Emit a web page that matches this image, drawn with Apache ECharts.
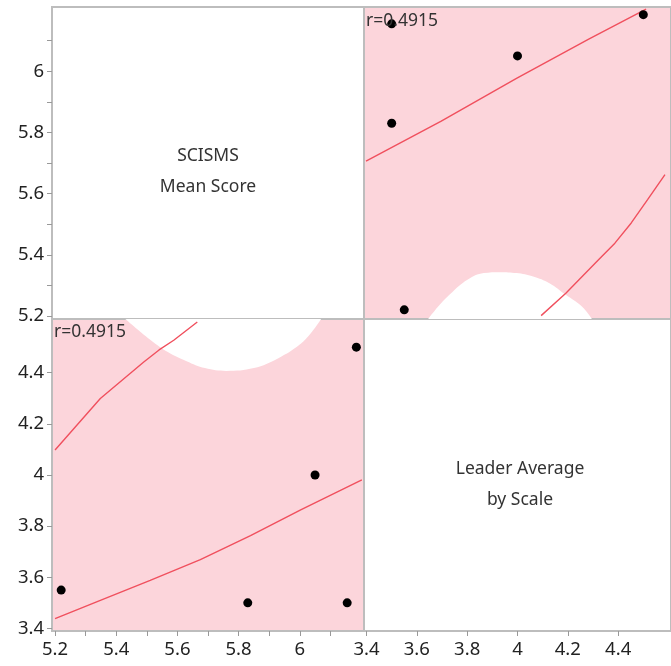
<!DOCTYPE html>
<html>
<head>
<meta charset="utf-8">
<script src="https://cdn.jsdelivr.net/npm/echarts@6/dist/echarts.min.js"></script>
<style>
  html, body { margin: 0; padding: 0; background: #fff; }
  #chart { width: 671px; height: 666px; }
</style>
</head>
<body>
<div id="chart"></div>
<script>
// scatterplot matrix: SCISMS Mean Score vs Leader Average by Scale
var scisms = [5.22, 5.83, 6.05, 6.155, 6.185];
var leader = [3.55, 3.5, 4.0, 3.5, 4.5];
var rText = 'r=0.4915';
var scismsName = 'SCISMS\nMean Score';
var leaderName = 'Leader Average\nby Scale';

var scismsLabels = [5.2, 5.4, 5.6, 5.8, 6];
var scismsTicks = [5.2, 5.3, 5.4, 5.5, 5.6, 5.7, 5.8, 5.9, 6, 6.1];
var leaderLabels = [3.4, 3.6, 3.8, 4, 4.2, 4.4];

// upper right panel, [leader, scisms]
var fitTR = [[3.398, 5.706], [3.697, 5.837], [3.996, 5.977], [4.283, 6.105], [4.511, 6.203]];
var ellipseTR = [[4.094, 5.201], [4.192, 5.274], [4.257, 5.329], [4.322, 5.384], [4.387, 5.438],
  [4.452, 5.504], [4.517, 5.580], [4.586, 5.662]];
var holeTR = [[3.645, 5.19], [3.684, 5.230], [3.736, 5.274], [3.801, 5.318], [3.866, 5.340],
  [3.931, 5.343], [3.996, 5.340], [4.062, 5.329], [4.127, 5.307], [4.192, 5.269],
  [4.257, 5.230], [4.296, 5.19]];

// lower left panel, [scisms, leader]
var fitBL = [[5.2, 3.438], [5.348, 3.510], [5.511, 3.588], [5.675, 3.669], [5.839, 3.763],
  [6.003, 3.864], [6.203, 3.981]];
var ellipseBL = [[5.2, 4.098], [5.348, 4.299], [5.49, 4.442], [5.54, 4.489], [5.588, 4.527], [5.665, 4.598]];
var holeBL = [[5.43, 4.61], [5.51, 4.53], [5.57, 4.48], [5.63, 4.445], [5.69, 4.418], [5.76, 4.407],
  [5.85, 4.418], [5.93, 4.457], [6.0, 4.51], [6.04, 4.56], [6.07, 4.61]];

var FONT = '"Noto Sans", "Open Sans", sans-serif';
var PINK = '#fcd5db';
var RED = '#f0505e';
var BORDER = '#bdbdbd';

function grid(left, top, bg) {
  return { left: left, top: top, width: 312, height: 312, show: true,
    borderColor: BORDER, borderWidth: 2, backgroundColor: bg };
}

function axis(gridIndex, min, max, opts) {
  var a = {
    type: 'value', gridIndex: gridIndex, min: min, max: max,
    axisLine: { show: false }, splitLine: { show: false },
    axisTick: { show: false }, axisLabel: { show: false }
  };
  if (opts) {
    a.axisTick = { show: true, length: 5, customValues: opts.ticks, lineStyle: { color: '#999', width: 1 } };
    a.axisLabel = { show: true, customValues: opts.labels, fontSize: 18.5, color: '#222',
      fontFamily: FONT, margin: opts.margin };
  }
  return a;
}

function curve(xi, data) {
  return { type: 'line', xAxisIndex: xi, yAxisIndex: xi, data: data, smooth: false,
    showSymbol: false, silent: true, z: 3, lineStyle: { color: RED, width: 1.4 } };
}

function hole(xi, data, origin) {
  return { type: 'line', xAxisIndex: xi, yAxisIndex: xi, data: data, smooth: 0.4,
    showSymbol: false, silent: true, z: 2, lineStyle: { width: 0 },
    areaStyle: { color: '#fff', opacity: 1, origin: origin } };
}

var ptsTR = leader.map(function (l, i) { return [l, scisms[i]]; });
var ptsBL = scisms.map(function (s, i) { return [s, leader[i]]; });

var chart = echarts.init(document.getElementById('chart'));
chart.setOption({
  animation: false,
  grid: [grid(52, 7, '#fff'), grid(364, 7, PINK), grid(52, 319, PINK), grid(364, 319, '#fff')],
  xAxis: [
    axis(0, 5.19, 6.21),
    axis(1, 3.39, 4.61),
    axis(2, 5.19, 6.21, { ticks: scismsTicks, labels: scismsLabels, margin: 9 }),
    axis(3, 3.39, 4.61, { ticks: leaderLabels, labels: leaderLabels, margin: 9 })
  ],
  yAxis: [
    axis(0, 5.19, 6.21, { ticks: scismsTicks, labels: scismsLabels, margin: 8 }),
    axis(1, 5.19, 6.21),
    axis(2, 3.39, 4.61, { ticks: leaderLabels, labels: leaderLabels, margin: 8 }),
    axis(3, 3.39, 4.61)
  ],
  series: [
    hole(1, holeTR, 'start'),
    curve(1, fitTR),
    curve(1, ellipseTR),
    { type: 'scatter', xAxisIndex: 1, yAxisIndex: 1, data: ptsTR, symbolSize: 9, z: 4,
      itemStyle: { color: '#000', opacity: 1 } },
    hole(2, holeBL, 'end'),
    curve(2, fitBL),
    curve(2, ellipseBL),
    { type: 'scatter', xAxisIndex: 2, yAxisIndex: 2, data: ptsBL, symbolSize: 9, z: 4,
      itemStyle: { color: '#000', opacity: 1 } }
  ],
  graphic: [
    { type: 'text', x: 366, y: 12, z: 10, style: { text: rText, fontSize: 17.5, fontFamily: FONT, fill: '#333' } },
    { type: 'text', x: 54, y: 323, z: 10, style: { text: rText, fontSize: 17.5, fontFamily: FONT, fill: '#333' } },
    { type: 'text', x: 208, y: 172, z: 10, style: { text: scismsName, fontSize: 17.5, fontFamily: FONT, fill: '#333',
      align: 'center', verticalAlign: 'middle', lineHeight: 31 } },
    { type: 'text', x: 520, y: 485, z: 10, style: { text: leaderName, fontSize: 17.5, fontFamily: FONT, fill: '#333',
      align: 'center', verticalAlign: 'middle', lineHeight: 31 } }
  ]
});
</script>
</body>
</html>
